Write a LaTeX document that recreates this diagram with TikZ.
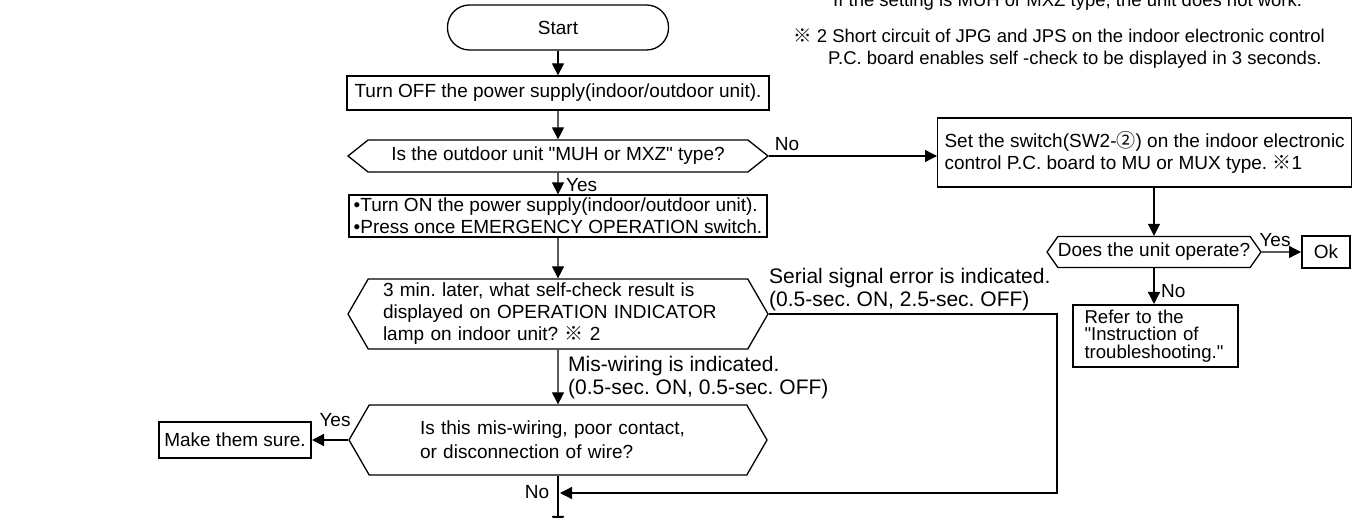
\documentclass[tikz,border=0pt]{standalone}
\usepackage{fontspec}
\setmainfont{Liberation Sans}
\newfontfamily\cjk{Noto Sans CJK JP}
\usetikzlibrary{arrows.meta,shapes.symbols}
\newcommand\dq{\textquotedbl}
\tikzset{
      procbox/.style={
        draw=black,
        line width=1.3pt,
        rectangle,
        inner sep=3pt,
        font=\fontsize{19}{22}\selectfont
      },
      endbox/.style={procbox, line width=2pt},
      checkbox/.style={
        draw=black,
        line width=1.3pt,
        signal,
        signal to=west and east,
        inner sep=2pt,
        font=\fontsize{19}{22}\selectfont
      },
      flow/.style={-{Triangle[length=12pt,width=12pt]}, line width=1.3pt},
      yesno/.style={inner sep=1pt, font=\fontsize{19}{22}\selectfont},
      bigtag/.style={inner sep=1pt, align=left, font=\fontsize{21}{23}\selectfont}
    }

\begin{document}
\frenchspacing
\begin{tikzpicture}[x=1pt,y=-1pt]
    \useasboundingbox (0,0) rectangle (1353,518);
    \node[anchor=base west, inner sep=0pt, font=\fontsize{18.5}{22}\selectfont] (note1) at (833,7) {If the setting is MUH or MXZ type, the unit does not work.};
    \node[anchor=west, inner sep=0pt, align=left, font=\fontsize{18.5}{22}\selectfont] (note2) at (793,49) {{\cjk ※}\ 2 Short circuit of JPG and JPS on the indoor electronic control\\\hspace*{35pt}P.C. board enables self -check to be displayed in 3 seconds.};
    \node[procbox, rounded corners=22pt, minimum width=221pt, minimum height=45pt] (start) at (558,27.5) {Start};
    \node[procbox, minimum width=422pt, minimum height=34pt] (off) at (558,93) {Turn OFF the power supply(indoor/outdoor unit).};
    \node[checkbox, minimum width=420pt, minimum height=32pt, signal pointer angle=77] (muh) at (558,156) {Is the outdoor unit \dq MUH or MXZ\dq\ type?};
    \node[procbox, minimum width=418pt, minimum height=40pt, align=left] (on) at (558,216) {\textbullet Turn ON the power supply(indoor/outdoor unit).\\\textbullet Press once EMERGENCY OPERATION switch.};
    \node[checkbox, minimum width=420pt, minimum height=70pt, signal pointer angle=120, text width=350pt, align=left] (result) at (558,314) {3 min. later, what self-check result is\\displayed on OPERATION INDICATOR\\lamp on indoor unit? {\cjk ※}\ 2};
    \node[checkbox, minimum width=418pt, minimum height=70pt, signal pointer angle=120, text width=276pt, align=left, font=\fontsize{19}{24}\selectfont] (wire) at (558,440) {Is this mis-wiring, poor contact,\\or disconnection of wire?};
    \node[endbox, minimum width=152pt, minimum height=36pt] (sure) at (235,440) {Make them sure.};
    \node[procbox, minimum width=414pt, minimum height=69pt, align=left, anchor=west] (setsw) at (937,152.5) {Set the switch(SW2-{\cjk ②}) on the indoor electronic\\control P.C. board to MU or MUX type. {\cjk ※}1};
    \node[checkbox, minimum width=210pt, minimum height=31pt, signal pointer angle=110, inner xsep=0pt] (operate) at (1154,252) {Does the unit operate?};
    \node[endbox, minimum width=48pt, minimum height=32pt] (ok) at (1326,252) {Ok};
    \node[endbox, minimum width=165pt, minimum height=62pt, text width=142pt, align=left, font=\fontsize{18.6}{17.5}\selectfont] (refer) at (1155.5,336) {Refer to the\\\dq Instruction of\\troubleshooting.\dq};
    \node[bigtag, anchor=west] (serial) at (768,290) {Serial signal error is indicated.\\(0.5-sec. ON, 2.5-sec. OFF)};
    \node[bigtag, anchor=west] (miswire) at (567,378) {Mis-wiring is indicated.\\(0.5-sec. ON, 0.5-sec. OFF)};
    \node[yesno] (no1) at (787,144) {No};
    \node[yesno, anchor=west] (yes1) at (565,185) {Yes};
    \node[yesno] (yes2) at (335,420) {Yes};
    \node[yesno] (no2) at (537,492) {No};
    \node[yesno] (yes3) at (1275,240) {Yes};
    \node[yesno, anchor=west] (no3) at (1160,291) {No};
    \coordinate (turn) at (1057,493);
    \coordinate (merge) at (560,493);
    \coordinate (exit) at (558,528);
    \draw[flow] (start) -- (off);
    \draw[flow] (off) -- (muh);
    \draw[flow] (muh.east) -- (muh.east -| setsw.west);
    \draw[flow] (muh) -- (on);
    \draw[flow] (on) -- (result);
    \draw[flow] (result) -- (wire);
    \draw[flow] (wire.west) -- (wire.west -| sure.east);
    \draw[flow] (result.east) -| (turn) -- (merge);
    \draw[flow] (wire) -- (exit);
    \draw[flow] (setsw.south -| operate.north) -- (operate.north);
    \draw[flow] (operate) -- (ok);
    \draw[flow] (operate.south) -- (operate.south |- refer.north);
    \end{tikzpicture}
\end{document}
